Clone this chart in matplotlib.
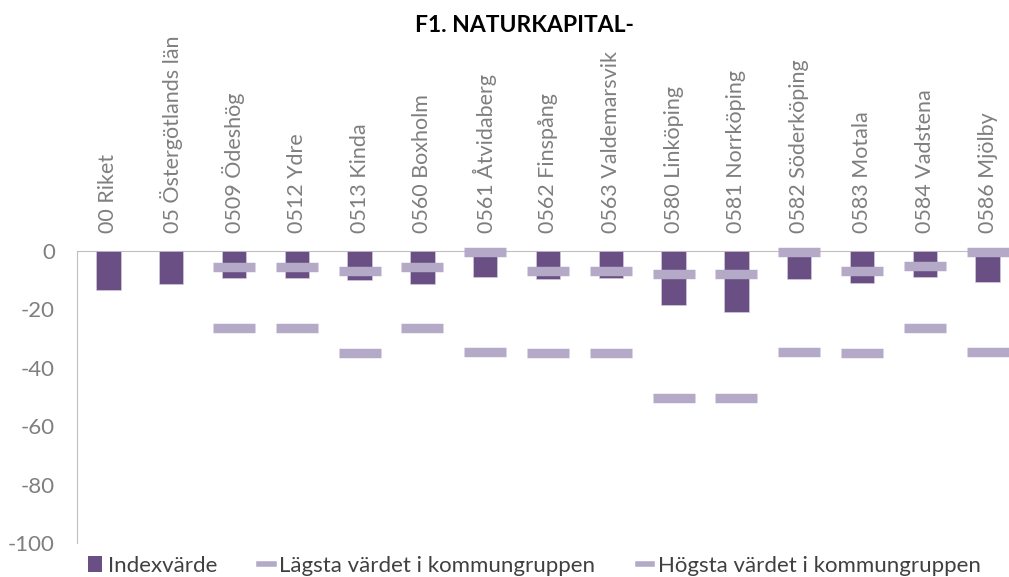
import numpy as np
import matplotlib
matplotlib.use("Agg")
import matplotlib.pyplot as plt
from matplotlib.patches import Patch
from matplotlib.lines import Line2D

plt.rcParams["font.family"] = ["Lato", "DejaVu Sans"]
plt.rcParams["axes.unicode_minus"] = False

# data
categories = [
    "00 Riket", "05 Östergötlands län", "0509 Ödeshög", "0512 Ydre",
    "0513 Kinda", "0560 Boxholm", "0561 Åtvidaberg", "0562 Finspång",
    "0563 Valdemarsvik", "0580 Linköping", "0581 Norrköping",
    "0582 Söderköping", "0583 Motala", "0584 Vadstena", "0586 Mjölby",
]
index_values = [-13.3, -11.3, -9.2, -9.2, -9.9, -11.3, -9.1, -9.8,
                -9.3, -18.7, -20.9, -9.6, -11.2, -8.9, -10.6]
lowest = [np.nan, np.nan, -26.5, -26.5, -35.0, -26.5, -34.7, -35.0,
          -35.0, -50.5, -50.5, -34.6, -35.0, -26.5, -34.6]
highest = [np.nan, np.nan, -5.5, -5.5, -7.1, -5.5, -0.4, -7.1,
           -7.1, -8.0, -8.0, -0.4, -7.1, -5.4, -0.4]

bar_color = "#694F84"
dash_color = "#B4A9C7"
grey = "#7F7F7F"

fig = plt.figure(figsize=(10.09, 5.77), dpi=100)
ax = fig.add_axes([0.0763, 0.0589, 0.9336, 0.5066])

x = np.arange(len(categories))
ax.bar(x, index_values, width=0.39, color=bar_color,
       edgecolor="#D9D2E3", linewidth=0.4, zorder=2)
ax.plot(x, lowest, linestyle="none", marker="_", markersize=30,
        markeredgewidth=6.8, color=dash_color, zorder=3, clip_on=False)
ax.plot(x, highest, linestyle="none", marker="_", markersize=30,
        markeredgewidth=6.8, color=dash_color, zorder=3, clip_on=False)

ax.set_xlim(-0.5, len(categories) - 0.5)
ax.set_ylim(-100, 0)
ax.set_yticks(np.arange(-100, 1, 20))
ax.tick_params(axis="y", length=0, pad=16, labelsize=16, labelcolor=grey)

ax.xaxis.tick_top()
ax.set_xticks(x)
ax.set_xticklabels(categories, rotation=90)
ax.tick_params(axis="x", length=0, pad=13, labelsize=15.5, labelcolor=grey)

for side in ["right", "bottom"]:
    ax.spines[side].set_visible(False)
ax.spines["top"].set_color("#BFBFBF")
ax.spines["left"].set_color("#BFBFBF")
ax.spines["top"].set_zorder(1)

fig.text(0.52, 1 - 25 / 577, "F1. NATURKAPITAL-", ha="center", va="center",
         fontsize=16.5, fontweight="bold", color="black")

handles = [
    Patch(facecolor=bar_color, edgecolor="none"),
    Line2D([], [], color=dash_color, linewidth=4),
    Line2D([], [], color=dash_color, linewidth=4),
]
labels = ["Indexvärde", "Lägsta värdet i kommungruppen",
          "Högsta värdet i kommungruppen"]
fig.legend(handles, labels, loc="center left", bbox_to_anchor=(0.087, 1 - 566 / 577),
           ncol=3, frameon=False, fontsize=16, handlelength=0.65,
           handletextpad=0.25, columnspacing=1.9, borderpad=0,
           borderaxespad=0, labelcolor="#404040")

fig.savefig("out.png", dpi=100)
